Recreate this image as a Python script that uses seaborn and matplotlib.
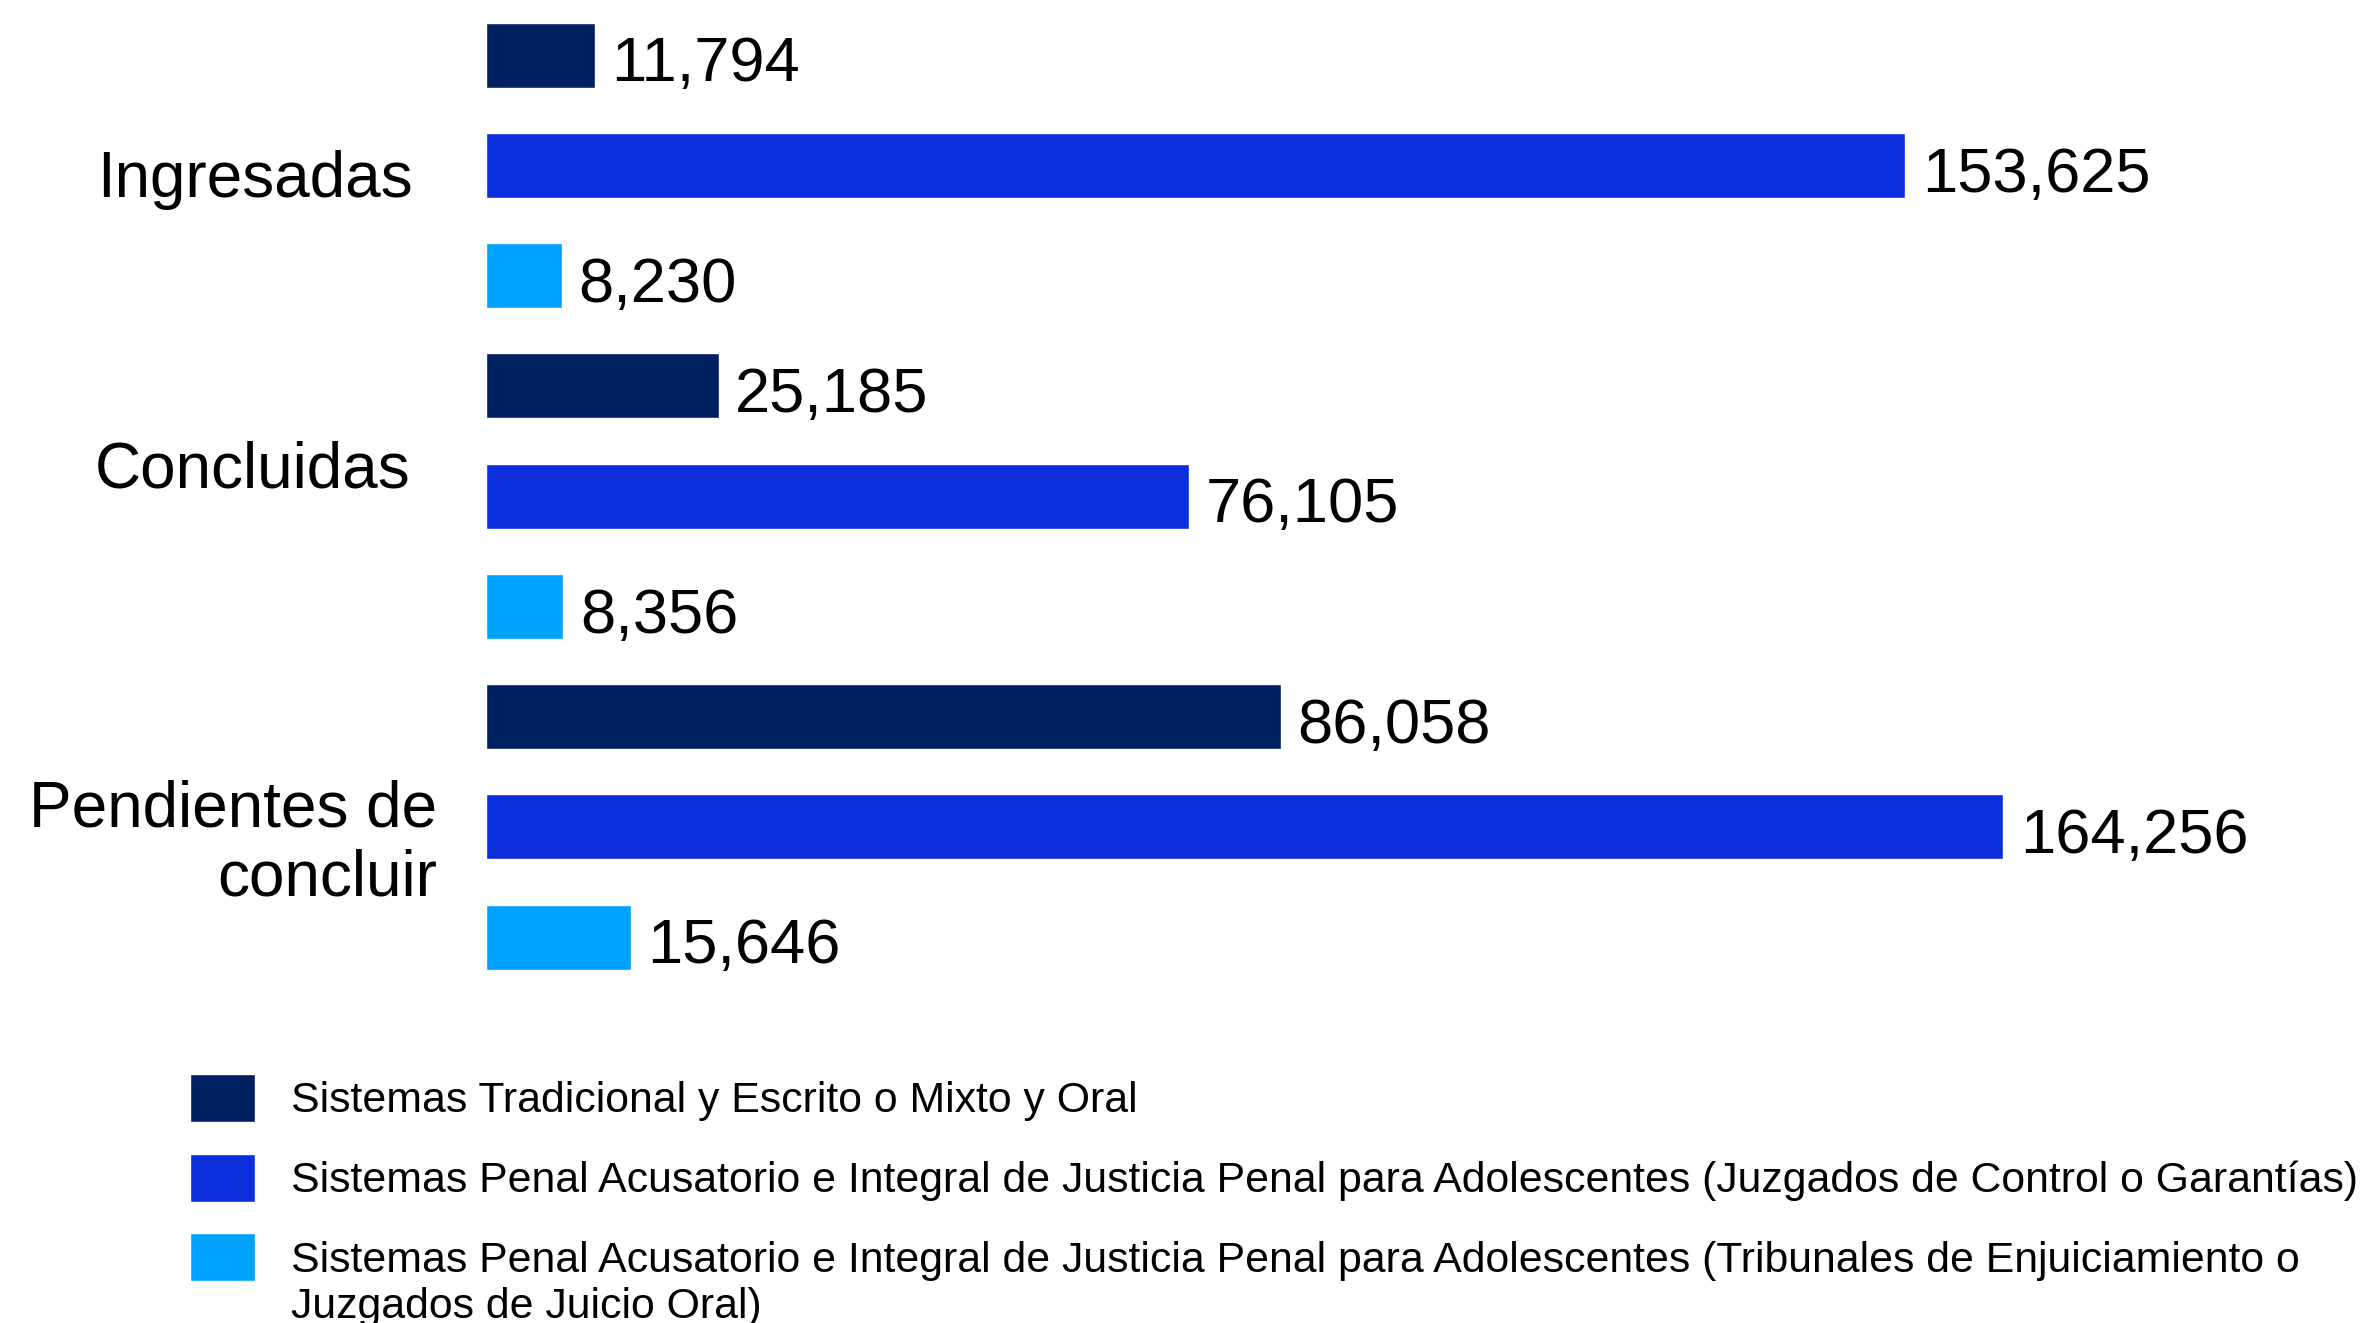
import pandas as pd
import numpy as np
import matplotlib.pyplot as plt
import matplotlib.transforms as mtransforms
import seaborn as sns

# Datos
categorias = ['Ingresadas', 'Concluidas', 'Pendientes de\nconcluir']
sistemas = [
    'Sistemas Tradicional y Escrito o Mixto y Oral',
    'Sistemas Penal Acusatorio e Integral de Justicia Penal para Adolescentes (Juzgados de Control o Garantías)',
    'Sistemas Penal Acusatorio e Integral de Justicia Penal para Adolescentes (Tribunales de Enjuiciamiento o Juzgados de Juicio Oral)',
]
corte_leyenda = 'Enjuiciamiento o '   # donde se parte la tercera etiqueta
tradicional = [11794, 25185, 86058]
control = [153625, 76105, 164256]
juicio_oral = [8230, 8356, 15646]
colores = ['#00205f', '#0d2edd', '#00a2ff']

filas = []
for serie, valores in zip(sistemas, [tradicional, control, juicio_oral]):
    for cat, v in zip(categorias, valores):
        filas.append({'categoria': cat, 'sistema': serie, 'valor': v})
df = pd.DataFrame(filas)

sns.set_style('white')
plt.rcParams['font.family'] = ['Liberation Sans', 'DejaVu Sans']
plt.rcParams['text.color'] = 'black'
plt.rcParams['ytick.color'] = 'black'

fig = plt.figure(figsize=(23.66, 13.23), dpi=100)
ax = fig.add_axes([486 / 2366, 0.25, 1 - 486 / 2366, 0.75])

sns.barplot(data=df, y='categoria', x='valor', hue='sistema', palette=colores,
            orient='h', width=1.0, gap=0.41, errorbar=None, saturation=1, ax=ax)

# etiquetas de valor, un poco hacia abajo como en el original
for cont in ax.containers:
    textos = ax.bar_label(cont, fmt='{:,.0f}', padding=12, fontsize=45.5)
    for t in textos:
        t.xyann = (12, -7)

ax.set_xlim(0, 203500)
ax.set_ylim(2.5, -0.5)
ax.set_xlabel('')
ax.set_ylabel('')
ax.set_xticks([])
sns.despine(ax=ax, left=True, bottom=True)
ax.tick_params(axis='y', length=0, pad=53, labelsize=46)

# pequeños ajustes de posicion de cada etiqueta (px)
ajustes = [(0, -8), (-2, 32), (25, -6)]
for lab, (dx, dy) in zip(ax.get_yticklabels(), ajustes):
    lab.set_multialignment('right')
    lab.set_linespacing(1.2)
    off = mtransforms.ScaledTranslation(dx / 100, dy / 100, fig.dpi_scale_trans)
    lab.set_transform(lab.get_transform() + off)

# Leyenda abajo; la tercera etiqueta se parte en dos lineas a mano
handles, labels = ax.get_legend_handles_labels()
ax.get_legend().remove()
primera, segunda = labels[2].split(corte_leyenda)
labels[2] = primera + corte_leyenda.strip()
leg = fig.legend(handles, labels, loc='upper left',
                 bbox_to_anchor=(190 / 2366, 1 - 1074 / 1323),
                 frameon=False, fontsize=30.8, borderpad=0, borderaxespad=0,
                 handlelength=1.52, handleheight=1.35, handletextpad=0.84,
                 labelspacing=0.74)

fig.canvas.draw()
bb = leg.get_texts()[2].get_window_extent()
fig.text(bb.x0 / fig.bbox.width, (bb.y1 - 46) / fig.bbox.height, segunda,
         fontsize=30.8, va='top', ha='left')

plt.savefig('out.png', dpi=100)
plt.close()
